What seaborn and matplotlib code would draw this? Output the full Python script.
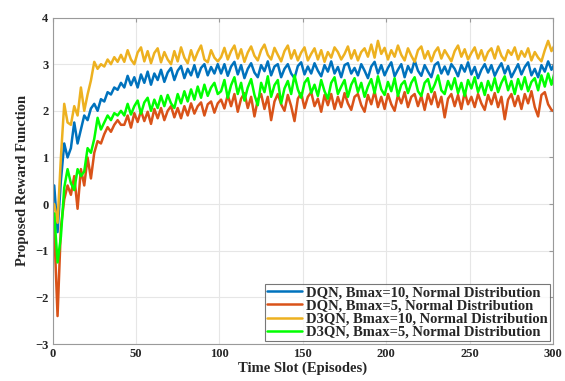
import numpy as np
import pandas as pd
import matplotlib
matplotlib.use("Agg")
import matplotlib.pyplot as plt
import seaborn as sns

# Episodes (every second episode)
episodes = list(range(1, 302, 2))

dqn_b10 = [
    0.4, -0.6, 0.5, 1.3, 1.0, 1.2, 1.75, 1.3, 1.6, 1.9, 1.8, 2.05, 2.15, 2.0, 2.25, 2.2, 2.4, 2.35, 2.5, 2.45, 2.6,
    2.5, 2.75, 2.55, 2.72, 2.5, 2.78, 2.6, 2.84, 2.56, 2.8, 2.66, 2.88, 2.62, 2.82, 2.92, 2.66, 2.86, 2.96, 2.7,
    2.9, 2.76, 2.98, 2.72, 2.92, 3.0, 2.76, 2.94, 2.8, 3.0,
    2.8, 3.0, 2.75, 2.95, 3.05, 2.78, 2.98, 2.7, 2.9, 3.02,
    2.82, 2.72, 2.98, 2.85, 3.06, 2.76, 2.95, 3.0, 2.72, 2.9,
    3.0, 2.8, 2.7, 2.96, 3.04, 2.78, 2.95, 2.8, 3.02, 2.86,
    2.74, 2.98, 2.84, 3.06, 2.8, 2.94, 2.72, 2.98, 3.02, 2.8,
    2.92, 2.76, 3.0, 2.86, 2.7, 2.95, 3.05, 2.8, 2.98, 2.76,
    2.92, 3.04, 2.74, 2.88, 3.0, 2.72, 2.96, 2.82, 3.08, 2.86,
    2.75, 2.98, 2.84, 2.72, 2.98, 3.04, 2.8, 2.95, 2.78, 3.0,
    2.9, 2.74, 2.98, 2.84, 3.04, 2.78, 2.94, 2.7, 2.88, 3.0,
    2.82, 2.98, 2.75, 2.9, 3.02, 2.8, 2.96, 2.72, 2.86, 3.0,
    2.78, 2.94, 3.04, 2.76, 2.9, 2.72, 2.98, 2.84, 3.06, 2.88, 3.02,
]

dqn_b5 = [
    -0.5, -2.4, -0.5, 0.1, 0.4, 0.2, 0.6, -0.1, 0.75, 0.4, 1.0, 0.55, 1.1, 1.35, 1.3, 1.5, 1.65, 1.55, 1.7, 1.8, 1.7,
    1.7, 1.9, 1.64, 1.95, 1.76, 2.0, 1.78, 1.98, 1.72, 2.04, 1.84, 2.06, 1.8, 2.0, 2.1, 1.86, 2.06, 1.84, 2.1,
    1.9, 2.16, 1.94, 2.1, 2.18, 1.9, 2.14, 2.2, 1.96, 2.16,
    2.24, 2.05, 2.34, 2.1, 2.36, 1.98, 2.26, 2.38, 2.06, 2.3,
    1.88, 2.24, 2.36, 2.04, 2.3, 1.8, 2.2, 2.36, 2.14, 2.0,
    2.34, 2.1, 1.78, 2.26, 2.38, 2.06, 2.3, 2.4, 2.1, 2.26,
    1.98, 2.34, 2.12, 2.36, 2.04, 2.3, 2.08, 2.38, 2.16, 2.02,
    2.3, 2.36, 2.12, 1.98, 2.34, 2.14, 2.42, 2.08, 2.3, 2.04,
    2.36, 2.14, 2.0, 2.34, 2.16, 2.4, 2.08, 2.3, 2.36, 2.1,
    2.32, 2.02, 2.36, 2.14, 2.4, 2.08, 2.3, 1.86, 2.26, 2.36,
    2.1, 2.34, 2.04, 2.4, 2.14, 2.3, 2.08, 2.36, 2.16, 2.02,
    2.34, 2.14, 2.38, 2.08, 2.3, 1.82, 2.24, 2.36, 2.1, 2.32,
    2.04, 2.36, 2.16, 2.42, 2.08, 1.88, 2.34, 2.4, 2.14, 2.02, 1.98,
]

d3qn_b10 = [
    0.0, -0.4, 1.0, 2.15, 1.75, 1.7, 2.1, 1.9, 2.5, 2.0, 2.35, 2.65, 3.05, 2.9, 3.0, 2.95, 3.1, 3.0, 3.15, 3.05, 3.2,
    3.05, 3.3, 3.1, 3.0, 3.25, 3.36, 3.06, 3.28, 3.02, 3.24, 3.34, 3.04, 3.26, 3.1, 3.0, 3.28, 3.06, 3.36, 3.14,
    3.02, 3.3, 3.08, 3.26, 3.4, 3.1, 3.04, 3.3, 3.14, 3.06,
    3.15, 3.35, 3.1, 3.28, 3.4, 3.12, 3.32, 3.05, 3.25, 3.38,
    3.18, 3.08, 3.3, 3.42, 3.2, 3.1, 3.35, 3.2, 3.06, 3.28,
    3.4, 3.12, 3.3, 3.08, 3.25, 3.36, 3.08, 3.22, 3.34, 3.1,
    3.3, 3.05, 3.26, 3.14, 3.36, 3.26, 3.1, 3.22, 3.38, 3.12,
    3.3, 3.08, 3.26, 3.34, 3.16, 3.42, 3.14, 3.5, 3.22, 3.35,
    3.1, 3.3, 3.16, 3.4, 3.2, 3.08, 3.34, 3.18, 3.05, 3.3,
    3.38, 3.12, 3.28, 3.06, 3.26, 3.36, 3.12, 3.3, 3.18, 3.06,
    3.28, 3.4, 3.16, 3.32, 3.1, 3.24, 3.36, 3.12, 3.3, 3.08,
    3.26, 3.34, 3.12, 3.38, 3.18, 3.08, 3.3, 3.2, 3.36, 3.1,
    3.28, 3.16, 3.34, 3.08, 3.26, 3.14, 3.06, 3.3, 3.5, 3.28, 3.42,
]

d3qn_b5 = [
    -0.2, -1.25, -0.7, 0.35, 0.75, 0.45, 0.3, 0.75, 0.6, 0.7, 1.2, 1.1, 1.4, 1.85, 1.6, 1.75, 1.9, 1.8, 1.95, 1.9, 2.0,
    1.9, 2.15, 1.92, 2.1, 2.22, 1.94, 2.18, 2.28, 2.0, 2.24, 2.06, 2.32, 2.1, 2.34, 2.16, 2.06, 2.36, 2.16, 2.42,
    2.2, 2.46, 2.24, 2.52, 2.28, 2.56, 2.32, 2.5, 2.6, 2.36,
    2.42, 2.66, 2.28, 2.55, 2.72, 2.36, 2.6, 2.22, 2.5, 2.68,
    2.34, 2.12, 2.6, 2.4, 2.74, 2.3, 2.55, 2.66, 2.16, 2.48,
    2.64, 2.36, 2.76, 2.46, 2.28, 2.6, 2.7, 2.38, 2.56, 2.32,
    2.66, 2.42, 2.26, 2.6, 2.72, 2.36, 2.52, 2.66, 2.3, 2.56,
    2.7, 2.4, 2.6, 2.3, 2.52, 2.68, 2.38, 2.74, 2.46, 2.34,
    2.62, 2.42, 2.7, 2.32, 2.56, 2.64, 2.38, 2.6, 2.72, 2.42,
    2.32, 2.6, 2.68, 2.4, 2.56, 2.76, 2.44, 2.36, 2.64, 2.46,
    2.7, 2.38, 2.6, 2.32, 2.66, 2.48, 2.72, 2.4, 2.6, 2.34,
    2.64, 2.44, 2.7, 2.4, 2.6, 2.74, 2.44, 2.64, 2.36, 2.68,
    2.46, 2.72, 2.42, 2.62, 2.7, 2.44, 2.76, 2.52, 2.8, 2.56, 2.84,
]

labels = [
    "DQN, Bmax=10, Normal Distribution",
    "DQN, Bmax=5, Normal Distribution",
    "D3QN, Bmax=10, Normal Distribution",
    "D3QN, Bmax=5, Normal Distribution",
]
colors = ["#0072BD", "#D95319", "#EDB120", "#00FF00"]

# long-form table for seaborn
df = pd.concat([
    pd.DataFrame({"Episode": episodes, "Reward": vals, "Method": lab})
    for vals, lab in zip([dqn_b10, dqn_b5, d3qn_b10, d3qn_b5], labels)
])

sns.set_style("white")
plt.rcParams["font.family"] = ["Liberation Serif", "DejaVu Serif"]
plt.rcParams["font.weight"] = "bold"

fig = plt.figure(figsize=(5.65, 3.81), dpi=100)
ax = fig.add_axes([0.093, 0.097, 0.886, 0.857])

sns.lineplot(data=df, x="Episode", y="Reward", hue="Method", hue_order=labels,
             palette=colors, linewidth=1.8, sort=False, estimator=None, ax=ax)

ax.set_xlim(0, 300)
ax.set_ylim(-3, 4)
ax.set_xticks(range(0, 301, 50))
ax.set_yticks(range(-3, 5))
ax.grid(True, color="#e6e6e6", linewidth=0.8)
ax.set_axisbelow(True)
for s in ax.spines.values():
    s.set_color("#9a9a9a")
    s.set_linewidth(0.8)
ax.tick_params(direction="in", length=3, color="#9a9a9a", labelsize=9, pad=3,
               top=True, right=True)
for t in ax.get_xticklabels() + ax.get_yticklabels():
    t.set_fontweight("bold")

ax.set_xlabel("Time Slot (Episodes)", fontsize=10.5, fontweight="bold", labelpad=1)
ax.set_ylabel("Proposed Reward Function", fontsize=10.5, fontweight="bold", labelpad=4)

leg = ax.legend(loc="lower right", fontsize=10.5, frameon=True, fancybox=False,
                handlelength=2.4, borderpad=0.15, labelspacing=0.0,
                handletextpad=0.3, borderaxespad=0.2)
leg.get_frame().set_edgecolor("#555555")
leg.get_frame().set_linewidth(0.8)
for t in leg.get_texts():
    t.set_fontweight("bold")

fig.savefig("out.png", dpi=100)
